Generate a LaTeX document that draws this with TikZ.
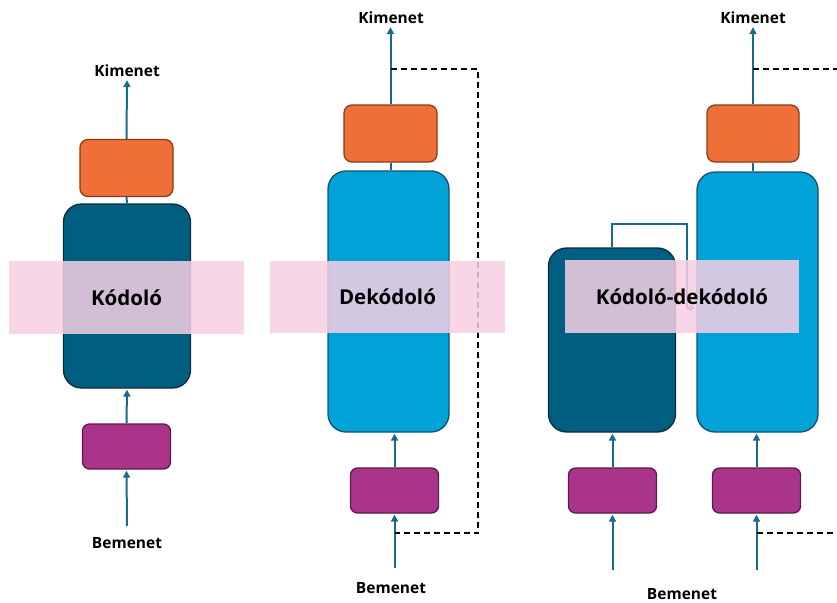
\documentclass[tikz,border=0pt]{standalone}
\usepackage{fontspec}
\setmainfont{Open Sans}
\usetikzlibrary{arrows.meta,positioning}
\definecolor{outorange}{RGB}{238,112,56}
\definecolor{outedge}{RGB}{140,58,24}
\definecolor{inpurple}{RGB}{170,52,138}
\definecolor{inedge}{RGB}{92,26,74}
\definecolor{encdark}{RGB}{0,95,128}
\definecolor{encedge}{RGB}{16,44,58}
\definecolor{decblue}{RGB}{0,162,216}
\definecolor{decedge}{RGB}{22,80,110}
\definecolor{flowteal}{RGB}{24,106,142}
\definecolor{bandpink}{RGB}{247,207,228}

\begin{document}
\begin{tikzpicture}[x=1pt, y=-1pt,
    box/.style={draw, line width=1.3pt, inner sep=0pt},
    outbox/.style={box, fill=outorange, draw=outedge, rounded corners=8pt, minimum width=93pt, minimum height=57pt},
    inbox/.style={box, fill=inpurple, draw=inedge, rounded corners=7pt, minimum width=88pt, minimum height=45pt},
    encbox/.style={box, fill=encdark, draw=encedge, rounded corners=18pt, minimum width=127pt, minimum height=184pt},
    decbox/.style={box, fill=decblue, draw=decedge, rounded corners=18pt, minimum width=121pt},
    band/.style={fill=bandpink, fill opacity=0.85, text opacity=1, minimum width=235pt, minimum height=73pt, font=\bfseries\fontsize{20.5}{24}\selectfont},
    lbl/.style={font=\bfseries\fontsize{15.5}{18}\selectfont, inner sep=2pt},
    flow/.style={draw=flowteal, line width=2pt, shorten >=1pt, -{Triangle[length=7pt,width=7pt]}},
    link/.style={draw=flowteal, line width=2pt},
    feedback/.style={draw=black, line width=1.6pt, dash pattern=on 6pt off 4pt}]
\useasboundingbox (0,0) rectangle (837,602);

% encoder only
\node[outbox] (out1) at (126.5,168) {};
\node[encbox] (enc1) at (127,296) {};
\node[inbox] (in1) at (126.5,446.5) {};
\node[lbl] (kim1) at (127,71) {Kimenet};
\node[lbl] (bem1) at (127,543) {Bemenet};
\coordinate (src1) at (127,526);
\draw[flow] (out1.north) -- (kim1.south);
\draw[link] (enc1.north) -- (out1.south);
\draw[flow] (in1.north) -- (enc1.south);
\draw[flow] (src1) -- (in1.south);

% decoder only
\node[outbox] (out2) at (390.5,133.5) {};
\node[decbox, minimum height=261pt] (dec2) at (388.5,301.5) {};
\node[inbox] (in2) at (394.5,490.5) {};
\node[lbl] (kim2) at (391,18) {Kimenet};
\node[lbl] (bem2) at (391,588) {Bemenet};
\coordinate (src2) at (394.5,568);
\draw[flow] (out2.north) -- (out2.north |- kim2.south);
\draw[link] (dec2.north -| out2.north) -- (out2.south);
\draw[flow] (in2.north) -- (in2.north |- dec2.south);
\draw[flow] (src2) -- (in2.south);
\coordinate (fb2a) at (390.5,69);
\coordinate (fb2b) at (394.5,533);
\coordinate (fb2c) at (478,533);
\draw[feedback] (fb2a) -| (fb2c) -- (fb2b);

% encoder-decoder
\node[encbox] (enc3) at (612,340) {};
\node[decbox, minimum height=260pt] (dec3) at (757.5,302) {};
\node[outbox, minimum width=92pt] (out3) at (753,133.5) {};
\node[inbox] (in3a) at (612.5,490.5) {};
\node[inbox] (in3b) at (756.5,490.5) {};
\node[lbl] (kim3) at (753,18) {Kimenet};
\node[lbl] (bem3) at (682,594) {Bemenet};
\coordinate (src3a) at (612.5,570);
\coordinate (src3b) at (756.5,570);
\draw[flow] (out3.north) -- (out3.north |- kim3.south);
\draw[link] (dec3.north -| out3.north) -- (out3.south);
\draw[flow] (in3a.north) -- (in3a.north |- enc3.south);
\draw[flow] (in3b.north) -- (in3b.north |- dec3.south);
\draw[flow] (src3a) -- (in3a.south);
\draw[flow] (src3b) -- (in3b.south);
\coordinate (hop3) at (687,224);
\path (dec3.west) ++(0,6) coordinate (join3);
\draw[flow, line width=1.5pt, -{Triangle[length=6pt,width=6pt]}] (enc3.north) |- (hop3) |- (join3);
\coordinate (fb3a) at (753,69);
\coordinate (fb3b) at (756.5,533);
\draw[feedback] (fb3a) -- (837,69);
\draw[feedback] (fb3b) -- (837,533);

% bands with titles
\node[band] (band1) at (126.5,297.5) {Kódoló};
\node[band, minimum height=72pt] (band2) at (387.5,297) {Dekódoló};
\node[band, minimum width=234pt] (band3) at (682,296.5) {Kódoló-dekódoló};
\end{tikzpicture}
\end{document}
